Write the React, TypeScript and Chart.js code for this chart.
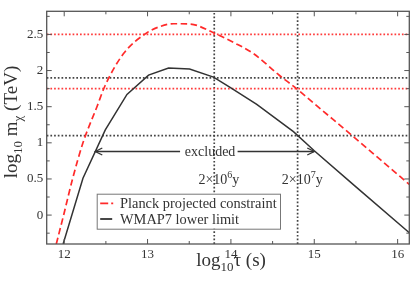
import React, { useEffect, useRef } from "react";
import { Chart, registerables } from "chart.js";

Chart.register(...registerables);

// ---- data ----
const tauPlanck = [11.905, 11.993, 12.1, 12.225, 12.393, 12.49, 12.712, 12.993, 13.15, 13.312, 13.512, 13.79, 14.03, 14.27, 14.58, 14.79, 15.1, 15.43, 15.8, 16.14];
const mPlanck = [-0.4, 0, 0.5, 1.0, 1.5, 1.79, 2.235, 2.524, 2.61, 2.648, 2.644, 2.524, 2.39, 2.235, 1.935, 1.747, 1.445, 1.124, 0.76, 0.425];

const tauWmap = [11.987, 12.225, 12.493, 12.753, 13.012, 13.252, 13.504, 13.791, 13.99, 14.31, 14.75, 15.0, 15.5, 16.14];
const mWmap = [-0.4, 0.51, 1.18, 1.67, 1.937, 2.035, 2.021, 1.91, 1.768, 1.533, 1.155, 0.89, 0.39, -0.245];

const xRange = [11.79, 16.14];
const yRange = [-0.4, 2.82];
const xTicks = [12, 13, 14, 15, 16];
const xMinorTicks = [12.5, 13.5, 14.5, 15.5];
const yTicks = [0, 0.5, 1, 1.5, 2, 2.5];
const yMinorTicks = [-0.25, 0.25, 0.75, 1.25, 1.75, 2.25, 2.75];

const redLevels = [2.5, 1.75];
const blackLevels = [1.9, 1.1];
const ageLines = [13.8, 14.8];
const ageLabelStarts = [13.61, 14.61];
const ageExponents = ["6", "7"];
const ageLabelY = 0.435;

const arrowY = 0.88;
const arrowFrom = 12.373;
const arrowTo = 15.0;
const arrowGap = [13.39, 14.08];
const excludedAt = 13.75;
const excludedText = "excluded";

const legendLabels = ["Planck projected constraint", "WMAP7 lower limit"];

const RED = "#ff2a2a";
const BLACK = "#333333";
const FONT = '"Liberation Serif", "Times New Roman", serif';

type Run = { t: string; s: number; dy: number };

function drawRuns(ctx: CanvasRenderingContext2D, runs: Run[], x: number, y: number, center: boolean) {
  let total = 0;
  for (const r of runs) {
    ctx.font = `${r.s}px ${FONT}`;
    total += ctx.measureText(r.t).width;
  }
  let cx = center ? x - total / 2 : x;
  ctx.textAlign = "left";
  ctx.textBaseline = "alphabetic";
  for (const r of runs) {
    ctx.font = `${r.s}px ${FONT}`;
    ctx.fillText(r.t, cx, y + r.dy);
    cx += ctx.measureText(r.t).width;
  }
}

const decor = {
  id: "decor",
  afterDatasetsDraw(chart: any) {
    const { ctx, chartArea: a, scales } = chart;
    const x = scales.x;
    const y = scales.y;
    ctx.save();

    // arrow heads
    const ay = y.getPixelForValue(arrowY);
    const lx = x.getPixelForValue(arrowFrom);
    const rx = x.getPixelForValue(arrowTo);
    ctx.strokeStyle = BLACK;
    ctx.lineWidth = 1.3;
    ctx.setLineDash([]);
    ctx.beginPath();
    ctx.moveTo(lx + 7, ay - 3.5);
    ctx.lineTo(lx, ay);
    ctx.lineTo(lx + 7, ay + 3.5);
    ctx.moveTo(rx - 7, ay - 3.5);
    ctx.lineTo(rx, ay);
    ctx.lineTo(rx - 7, ay + 3.5);
    ctx.stroke();

    // excluded label
    ctx.fillStyle = BLACK;
    ctx.font = `14px ${FONT}`;
    ctx.textAlign = "center";
    ctx.textBaseline = "alphabetic";
    ctx.fillText(excludedText, x.getPixelForValue(excludedAt), ay + 4.2);

    // age labels
    ageLabelStarts.forEach((v, i) => {
      drawRuns(
        ctx,
        [
          { t: "2×10", s: 14, dy: 0 },
          { t: ageExponents[i], s: 10, dy: -6 },
          { t: "y", s: 14, dy: 0 },
        ],
        x.getPixelForValue(v),
        y.getPixelForValue(ageLabelY),
        false
      );
    });

    // frame
    ctx.strokeStyle = "#555";
    ctx.lineWidth = 1.3;
    ctx.strokeRect(a.left, a.top, a.right - a.left, a.bottom - a.top);

    // inward ticks
    ctx.lineWidth = 1;
    ctx.strokeStyle = "#555";
    ctx.beginPath();
    const xt = (v: number, len: number) => {
      const px = x.getPixelForValue(v);
      ctx.moveTo(px, a.bottom);
      ctx.lineTo(px, a.bottom - len);
      ctx.moveTo(px, a.top);
      ctx.lineTo(px, a.top + len);
    };
    const yt = (v: number, len: number) => {
      const py = y.getPixelForValue(v);
      ctx.moveTo(a.left, py);
      ctx.lineTo(a.left + len, py);
      ctx.moveTo(a.right, py);
      ctx.lineTo(a.right - len, py);
    };
    xTicks.forEach((v) => xt(v, 5));
    xMinorTicks.forEach((v) => xt(v, 3));
    yTicks.forEach((v) => yt(v, 5));
    yMinorTicks.forEach((v) => yt(v, 3));
    ctx.stroke();

    // legend
    const bx = a.left + 50;
    const by = 193.7;
    const bw = 183.3;
    const bh = 35;
    ctx.fillStyle = "#fff";
    ctx.fillRect(bx, by, bw, bh);
    ctx.strokeStyle = "#777";
    ctx.lineWidth = 1;
    ctx.strokeRect(bx + 0.5, by + 0.5, bw, bh);
    const rows = [by + 9.6, by + 25.3];
    ctx.lineWidth = 1.8;
    ctx.strokeStyle = RED;
    ctx.setLineDash([8, 3]);
    ctx.beginPath();
    ctx.moveTo(bx + 3.5, rows[0]);
    ctx.lineTo(bx + 16.5, rows[0]);
    ctx.stroke();
    ctx.setLineDash([]);
    ctx.strokeStyle = BLACK;
    ctx.beginPath();
    ctx.moveTo(bx + 3.5, rows[1]);
    ctx.lineTo(bx + 15.5, rows[1]);
    ctx.stroke();
    ctx.fillStyle = BLACK;
    ctx.font = `14.4px ${FONT}`;
    ctx.textAlign = "left";
    ctx.textBaseline = "alphabetic";
    legendLabels.forEach((t, i) => ctx.fillText(t, bx + 23.3, rows[i] + 4.7));

    ctx.restore();
  },
  afterDraw(chart: any) {
    const { ctx, chartArea: a } = chart;
    ctx.save();
    ctx.fillStyle = BLACK;
    // x title
    drawRuns(
      ctx,
      [
        { t: "log", s: 19, dy: 0 },
        { t: "10", s: 13, dy: 5 },
        { t: "τ (s)", s: 19, dy: 0 },
      ],
      (a.left + a.right) / 2 + 3,
      266,
      true
    );
    // y title
    ctx.translate(17, 122);
    ctx.rotate(-Math.PI / 2);
    drawRuns(
      ctx,
      [
        { t: "log", s: 19, dy: 0 },
        { t: "10", s: 13, dy: 5 },
        { t: " m", s: 19, dy: 0 },
        { t: "χ", s: 13, dy: 5 },
        { t: " (TeV)", s: 19, dy: 0 },
      ],
      0,
      0,
      true
    );
    ctx.restore();
  },
};

export default function App() {
  const ref = useRef<HTMLCanvasElement | null>(null);
  useEffect(() => {
    document.body.style.margin = "0";
    const canvas = ref.current;
    if (!canvas) return;
    const pts = (xs: number[], ys: number[]) => xs.map((v, i) => ({ x: v, y: ys[i] }));
    const dotted = { borderWidth: 1.7, borderDash: [1.7, 2.0], pointRadius: 0, fill: false, tension: 0 };
    const datasets: any[] = [
      {
        label: legendLabels[0],
        data: pts(tauPlanck, mPlanck),
        borderColor: RED,
        borderWidth: 1.7,
        borderDash: [6.5, 3.5],
        pointRadius: 0,
        cubicInterpolationMode: "monotone",
        order: 1,
      },
      {
        label: legendLabels[1],
        data: pts(tauWmap, mWmap),
        borderColor: BLACK,
        borderWidth: 1.5,
        pointRadius: 0,
        tension: 0,
        order: 1,
      },
      ...redLevels.map((v) => ({
        ...dotted,
        label: "red level",
        data: [
          { x: xRange[0], y: v },
          { x: xRange[1], y: v },
        ],
        borderColor: "#ff3b3b",
        order: 3,
      })),
      ...blackLevels.map((v) => ({
        ...dotted,
        label: "black level",
        data: [
          { x: xRange[0], y: v },
          { x: xRange[1], y: v },
        ],
        borderColor: "#444",
        order: 3,
      })),
      ...ageLines.map((v) => ({
        ...dotted,
        label: "age",
        data: [
          { x: v, y: yRange[0] },
          { x: v, y: yRange[1] },
        ],
        borderColor: "#444",
        order: 3,
      })),
      {
        label: "arrow left",
        data: [
          { x: arrowFrom, y: arrowY },
          { x: arrowGap[0], y: arrowY },
        ],
        borderColor: BLACK,
        borderWidth: 1.3,
        pointRadius: 0,
        order: 2,
      },
      {
        label: "arrow right",
        data: [
          { x: arrowGap[1], y: arrowY },
          { x: arrowTo, y: arrowY },
        ],
        borderColor: BLACK,
        borderWidth: 1.3,
        pointRadius: 0,
        order: 2,
      },
    ];
    const chart = new Chart(canvas, {
      type: "line",
      data: { datasets },
      options: {
        animation: false,
        responsive: false,
        devicePixelRatio: 1,
        layout: { padding: { top: 1.7, right: 5.7, left: 0, bottom: 0 } },
        plugins: { legend: { display: false }, tooltip: { enabled: false } },
        scales: {
          x: {
            type: "linear",
            min: xRange[0],
            max: xRange[1],
            afterBuildTicks: (s: any) => {
              s.ticks = xTicks.map((v) => ({ value: v }));
            },
            afterFit: (s: any) => {
              s.height = 38;
            },
            grid: { display: false, drawTicks: false },
            border: { display: false },
            ticks: {
              padding: 3,
              color: BLACK,
              font: { family: FONT, size: 13 },
              maxRotation: 0,
              autoSkip: false,
              callback: (v: any) => String(v),
            },
          },
          y: {
            type: "linear",
            min: yRange[0],
            max: yRange[1],
            afterBuildTicks: (s: any) => {
              s.ticks = yTicks.map((v) => ({ value: v }));
            },
            afterFit: (s: any) => {
              s.width = 46.7;
            },
            grid: { display: false, drawTicks: false },
            border: { display: false },
            ticks: {
              padding: 3.5,
              color: BLACK,
              font: { family: FONT, size: 13 },
              autoSkip: false,
              callback: (v: any) => String(v),
            },
          },
        },
      },
      plugins: [decor],
    });
    return () => chart.destroy();
  }, []);
  return (
    <div style={{ position: "fixed", left: 0, top: 0, width: 415, height: 282, background: "#fff" }}>
      <canvas ref={ref} width={415} height={282} style={{ width: 415, height: 282, display: "block" }} />
    </div>
  );
}
